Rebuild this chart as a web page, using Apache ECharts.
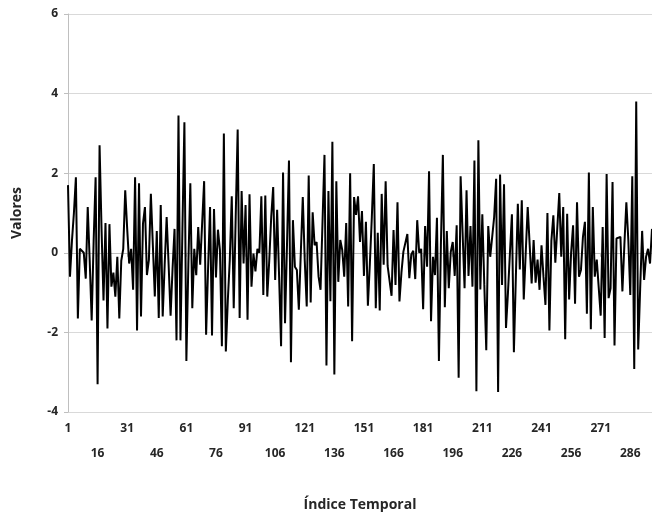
<!DOCTYPE html>
<html>
<head>
<meta charset="utf-8">
<script src="https://cdn.jsdelivr.net/npm/echarts@6/dist/echarts.min.js"></script>
<style>
  html, body { margin: 0; padding: 0; background: #ffffff; }
  #chart { width: 652px; height: 513px; }
</style>
</head>
<body>
<div id="chart"></div>
<script>
// Serie temporal: un valor por índice (1..297)
const valores = [
  1.7, -0.6, 0.3, 1.0, 1.9, -1.65, 0.1, 0.05, 0.0, -0.65, 1.15, -0.2, -1.7, 0.3, 1.9,
  -3.3, 2.7, 0.6, -1.2, 0.75, -1.9, 0.72, -0.85, -0.5, -1.1, -0.1, -1.65, -0.2, 0.1, 1.57,
  0.6, -0.27, 0.1, -0.93, 1.9, -1.95, 1.75, -1.6, 0.73, 1.15, -0.56, -0.18, 1.48, 0.2, -1.1,
  0.55, -1.64, 1.2, -1.6, -0.3, 0.9, -0.3, -1.58, -0.4, 0.6, -2.2, 3.45, -2.2, 0.6, 3.28,
  -2.72, -0.3, 1.75, -1.39, 0.1, -0.56, 0.65, -0.3, -0.3, 1.8, -2.06, -0.4, 1.15, -2.08, 1.1,
  -0.62, 0.58, 0.07, -2.35, 3.0, -2.48, -1.2, -0.18, 1.42, -1.39, 0.9, 3.1, -1.64, 1.55, -0.27,
  1.2, -1.68, 1.47, -0.85, -0.02, -0.47, 0.1, 0.0, 1.42, -1.06, 1.44, -1.1, -0.2, 0.9, 1.65,
  -0.68, 1.08, -0.6, -2.35, 2.02, -1.77, 0.2, 2.32, -2.75, 0.82, -0.35, -0.43, -1.43, 0.0, 1.4,
  -0.2, -1.35, 1.94, -1.25, 1.02, 0.19, 0.27, -0.6, -0.93, -0.97, 2.46, -2.83, 1.55, -1.22, 2.79,
  -3.06, 1.8, -0.73, 0.32, 0.07, -0.6, 0.75, -1.35, 2.0, -2.22, 1.4, 0.95, 1.42, 0.27, 1.05,
  -0.58, 0.78, -1.33, -0.27, 0.9, 2.23, -1.39, 0.5, -1.45, 1.48, -0.3, 1.8, -0.33, -0.28, -1.08,
  0.57, -0.81, 1.27, -1.22, -0.5, 0.03, 0.03, 0.47, -0.64, -0.04, 0.05, -0.66, 0.82, 0.0, 0.1,
  -1.42, 0.67, -0.35, 2.05, -1.72, -0.1, -0.56, 0.88, -2.72, 0.19, 2.46, -1.37, 0.55, -0.89, 0.02,
  0.27, -0.58, 0.69, -3.14, 1.92, 0.5, -0.89, 1.57, -0.58, 0.67, -0.85, 2.32, -3.48, 2.83, -0.92,
  0.97, -0.8, -2.45, 0.67, -0.1, -0.08, 0.9, 1.86, -3.5, 1.97, -0.81, 1.72, -1.89, -1.0, 0.0,
  0.97, -2.5, -0.6, 1.23, -0.42, 1.32, -1.17, 0.0, 1.15, 0.2, -0.77, 0.32, -0.75, -0.17, -0.93,
  0.19, -0.6, -1.31, 1.0, -1.95, 0.3, 0.94, -0.25, -0.3, 1.5, -0.1, 1.15, -2.17, 0.98, -1.17,
  0.0, 0.69, -1.28, 1.27, -0.6, -0.43, 0.4, 0.78, -1.53, 2.02, -1.92, 1.15, -0.6, -0.17, -0.22,
  -1.58, 0.65, -2.14, 1.98, -1.14, -0.89, 1.78, -2.33, 0.36, 0.38, 0.4, -0.97, 0.2, 1.27, 0.32,
  -1.06, 1.92, -2.92, 3.8, -2.43, -0.9, 0.55, -0.68, -0.1, 0.1, -0.27, 0.6
];

// Índices temporales 1..N
const indices = valores.map((_, i) => String(i + 1));

// Rango y paso del eje de valores
const yMin = -4, yMax = 6, yPaso = 2;
// Cada cuántos índices se rotula el eje horizontal
const pasoEtiqueta = 15;

const fuente = '"Open Sans", "Noto Sans", sans-serif';
const gris = '#bfbfbf';

const chart = echarts.init(document.getElementById('chart'), null, { renderer: 'canvas' });
chart.setOption({
  animation: false,
  backgroundColor: '#ffffff',
  grid: { left: 68, right: 0, top: 14, bottom: 101, containLabel: false, outerBoundsMode: 'none' },
  xAxis: {
    type: 'category',
    data: indices,
    boundaryGap: false,
    name: 'Índice Temporal',
    nameLocation: 'middle',
    nameGap: 86,
    nameTextStyle: { fontFamily: fuente, fontWeight: 'bold', fontSize: 14, color: '#262626', verticalAlign: 'top' },
    axisLine: { show: true, lineStyle: { color: gris, width: 1 } },
    axisTick: { show: true, interval: pasoEtiqueta - 1, length: 4, lineStyle: { color: gris } },
    axisLabel: {
      interval: pasoEtiqueta - 1,
      margin: 4,
      fontFamily: fuente,
      fontWeight: 'bold',
      fontSize: 12,
      color: '#262626',
      lineHeight: 25,
      formatter: function (v, i) {
        return (Math.round(i / pasoEtiqueta) % 2 === 1) ? '\n' + v : v;
      }
    },
    splitLine: { show: false }
  },
  yAxis: {
    type: 'value',
    min: yMin,
    max: yMax,
    interval: yPaso,
    name: 'Valores',
    nameLocation: 'middle',
    nameGap: 44,
    nameTextStyle: { fontFamily: fuente, fontWeight: 'bold', fontSize: 14, color: '#262626' },
    axisLine: { show: true, lineStyle: { color: gris, width: 1 } },
    axisTick: { show: true, length: 4, lineStyle: { color: gris } },
    axisLabel: { margin: 10, fontFamily: fuente, fontWeight: 'bold', fontSize: 12, color: '#262626' },
    splitLine: { show: true, lineStyle: { color: '#d9d9d9', width: 1 } }
  },
  series: [{
    type: 'line',
    data: valores,
    showSymbol: false,
    symbol: 'none',
    lineStyle: { color: '#000000', width: 2 },
    itemStyle: { color: '#000000' }
  }]
});
</script>
</body>
</html>
